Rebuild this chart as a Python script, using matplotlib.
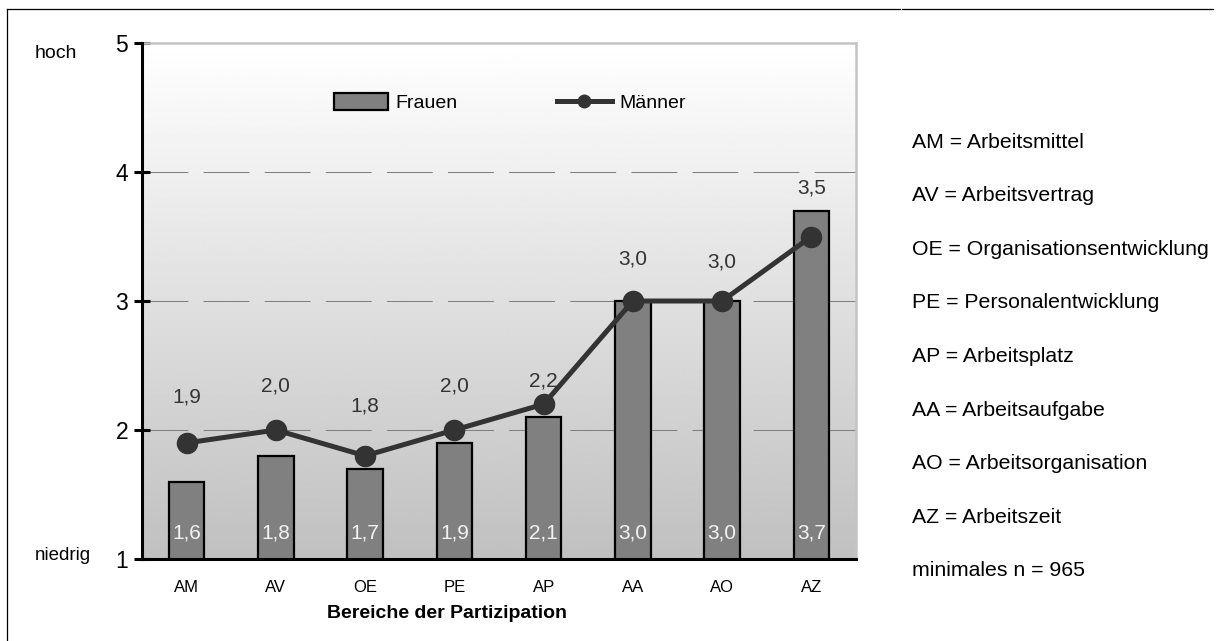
import matplotlib.pyplot as plt
import numpy as np
from matplotlib.lines import Line2D
from matplotlib.patches import Patch

plt.rcParams['font.family'] = ['Liberation Sans', 'DejaVu Sans']
plt.rcParams['lines.scale_dashes'] = False

bereiche = ['AM', 'AV', 'OE', 'PE', 'AP', 'AA', 'AO', 'AZ']
frauen = [1.6, 1.8, 1.7, 1.9, 2.1, 3.0, 3.0, 3.7]
maenner = [1.9, 2.0, 1.8, 2.0, 2.2, 3.0, 3.0, 3.5]
legende = ['AM = Arbeitsmittel', 'AV = Arbeitsvertrag',
           'OE = Organisationsentwicklung', 'PE = Personalentwicklung',
           'AP = Arbeitsplatz', 'AA = Arbeitsaufgabe',
           'AO = Arbeitsorganisation', 'AZ = Arbeitszeit',
           'minimales n = 965']
# Abstand der Männer-Beschriftung über dem Punkt (pt)
label_dy = [33, 32, 36, 32, 17, 30, 28, 35]

def fmt(v):
    return f'{v:.1f}'.replace('.', ',')

fig = plt.figure(figsize=(12.23, 6.41), dpi=100)
ax = fig.add_axes([142 / 1223, 1 - 559 / 641, 714 / 1223, 516 / 641])

x = np.arange(len(bereiche))
ax.set_xlim(-0.5, len(bereiche) - 0.5)
ax.set_ylim(1, 5)

# Hintergrundverlauf: unten grau, oben weiß
grad = np.linspace(0.753, 1.0, 256).reshape(-1, 1)
ax.imshow(grad, cmap='gray', vmin=0, vmax=1, origin='lower', aspect='auto',
          extent=(-0.5, len(bereiche) - 0.5, 1, 5), zorder=0)

for yv in [2, 3, 4]:
    ax.axhline(yv, color='#808080', lw=0.75, ls=(0, (33, 11)), zorder=1)

ax.bar(x, frauen, width=0.4, color='#808080', edgecolor='black',
       linewidth=1.6, zorder=2)
ax.plot(x, maenner, color='#333333', lw=3.6, marker='o', markersize=14.5,
        zorder=3, clip_on=False)

for xi, v in zip(x, frauen):
    ax.text(xi, 1.2, fmt(v), ha='center', va='center', color='#f2f2f2',
            fontsize=15, zorder=4)
for xi, v, dy in zip(x, maenner, label_dy):
    ax.annotate(fmt(v), (xi, v), xytext=(0, dy), textcoords='offset points',
                ha='center', va='center', color='#333333', fontsize=15,
                zorder=4)

ax.set_xticks(x)
ax.set_xticklabels(bereiche, fontsize=12)
ax.tick_params(axis='x', length=0, pad=15)
ax.set_yticks([1, 2, 3, 4, 5])
ax.tick_params(axis='y', direction='inout', length=12, width=2.2,
               labelsize=16.5, pad=4)

for s in ['left', 'bottom']:
    ax.spines[s].set_linewidth(2.2)
    ax.spines[s].set_color('black')
for s in ['top', 'right']:
    ax.spines[s].set_linewidth(1.8)
    ax.spines[s].set_color('#c4c4c4')
ax.spines['left'].set_zorder(5)

handles = [Patch(facecolor='#808080', edgecolor='black', linewidth=1.6),
           Line2D([], [], color='#333333', lw=3.6, marker='o', markersize=9)]
ax.legend(handles, ['Frauen', 'Männer'], ncol=2, loc='center',
          bbox_to_anchor=(0.515, 0.884), frameon=False, fontsize=14,
          handlelength=2.8, handleheight=0.9, handletextpad=0.4,
          columnspacing=5.1)

fig.text(447 / 1223, 1 - 613 / 641, 'Bereiche der Partizipation',
         ha='center', va='center', fontsize=14, fontweight='bold')
fig.text(35 / 1223, 1 - 53 / 641, 'hoch', ha='left', va='center', fontsize=14)
fig.text(35 / 1223, 1 - 555 / 641, 'niedrig', ha='left', va='center',
         fontsize=13.5)

for i, t in enumerate(legende):
    fig.text(912 / 1223, 1 - (142 + i * 53.6) / 641, t, ha='left',
             va='center', fontsize=15.3)

# Rahmen oben und links
fig.add_artist(Line2D([7 / 1223, 900 / 1223], [1 - 9 / 641] * 2,
                      color='black', lw=0.9))
fig.add_artist(Line2D([902 / 1223, 1213 / 1223], [1 - 9 / 641] * 2,
                      color='black', lw=0.9))
fig.add_artist(Line2D([7 / 1223] * 2, [1 - 9 / 641, 0], color='black',
                      lw=0.9))

fig.savefig('out.png', dpi=100)
